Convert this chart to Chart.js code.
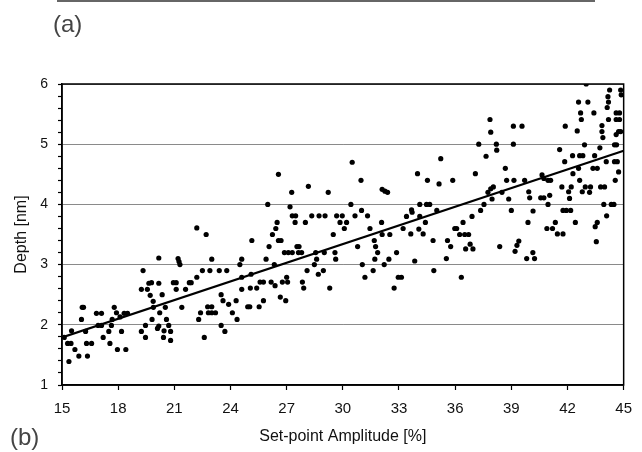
<!DOCTYPE html>
<html>
<head>
<meta charset="utf-8">
<script src="https://cdn.jsdelivr.net/npm/chart.js@4/dist/chart.umd.min.js"></script>
<style>
  html, body { margin: 0; padding: 0; background: #fff; }
  #wrap { position: relative; width: 642px; height: 452px; }
  .panel { position: absolute; font-family: "Liberation Sans", Arial, sans-serif; font-size: 24px; line-height: 24px; color: #444; }
  #rule { position: absolute; left: 57px; top: 0; width: 538px; height: 2px; background: #666; }
</style>
</head>
<body>
<div id="wrap">
  <div id="rule"></div>
  <div class="panel" style="left:53px; top:12px;">(a)</div>
  <div class="panel" style="left:10px; top:425px;">(b)</div>
  <canvas id="chart" width="642" height="452"></canvas>
</div>
<script>
// set-point amplitude [%] for each measured point
const amplitude = [
  15.12, 15.3, 15.48, 15.37, 15.51, 15.69, 15.9, 16.04, 16.08, 16.15,
  16.26, 16.31, 16.36, 16.58, 16.84, 17.11, 16.93, 17.11, 17.2, 17.5,
  17.56, 17.64, 17.68, 17.79, 17.91, 17.96, 18.1, 18.18, 18.32, 18.5,
  18.41, 19.24, 19.33, 19.24, 19.46, 19.46, 19.56, 19.64, 19.71, 19.78,
  19.87, 19.81, 19.88, 20.1, 20.17, 20.17, 20.17, 20.22, 20.35, 20.42,
  20.45, 20.58, 20.52,
  20.7, 20.8, 20.8, 20.95, 21.1, 21.1, 21.2, 21.25, 21.3, 21.4,
  21.6, 21.8, 21.9, 22.2, 22.7, 22.2, 22.3, 22.4, 22.5, 22.6,
  22.82, 22.78, 23.0, 23.0, 23.2, 23.0, 22.9, 23.4, 23.5, 23.5,
  23.6, 23.7, 23.8, 23.9, 24.1, 24.3, 24.35, 24.5, 24.6, 24.6, 24.6,
  24.92, 25.03, 25.06, 25.14, 25.1, 25.4, 25.53, 25.58, 25.76, 25.76,
  25.9, 25.99, 26.06, 26.17, 26.24, 26.34, 26.38, 26.42, 26.49, 26.56,
  26.56, 26.7, 26.66, 26.77, 26.88, 27.09, 27.3, 26.95, 27.0, 27.05,
  27.18, 27.27, 27.3, 27.48, 27.45, 27.55, 27.66, 27.63, 27.8, 27.84,
  27.91, 28.0, 28.09, 28.16, 28.34, 28.48, 28.55, 28.6, 28.69, 28.73,
  29.05, 28.96, 29.01, 29.22, 29.3, 29.49, 29.58, 29.62, 29.67, 29.97,
  29.85, 30.2, 30.08, 30.43, 30.5, 30.65, 30.79, 30.97, 31.0, 31.04,
  31.18, 31.32, 31.45, 31.62, 31.68, 31.71, 31.75, 31.86, 32.07, 32.1,
  32.1, 32.25, 32.39, 32.21, 32.46, 32.51, 32.74, 32.87, 32.96, 33.13,
  33.22,
  33.4, 33.67, 33.7, 33.63, 33.84, 33.99, 34.06, 34.11, 34.11, 34.29,
  34.41, 34.47, 34.64, 34.52, 34.82, 34.86, 35.02, 35.14, 35.23, 35.53,
  35.59, 35.76, 35.87, 35.98, 36.08, 36.24, 36.33, 36.42, 36.51, 36.72,
  36.56, 36.8, 36.9, 36.95, 37.08, 37.26, 37.36, 37.54, 37.65, 37.75,
  37.9, 38.04, 37.86, 37.9, 37.97, 38.2, 38.22, 38.38, 38.5, 38.68,
  38.75, 39.14, 38.86, 39.0, 39.11, 39.11,
  39.57, 39.71, 39.89, 39.93, 39.98, 40.16, 39.4, 39.3, 39.2, 39.82,
  40.15, 40.24, 40.57, 40.74, 41.05, 40.64, 40.74, 40.96, 41.1, 40.96,
  40.9, 41.2, 41.35, 41.46, 41.76, 41.58, 41.7, 41.76, 41.94, 42.17,
  41.85, 41.88, 42.06, 42.2, 42.11, 42.27, 42.65, 42.82, 42.29, 42.42,
  42.52, 42.59, 42.59, 43.09, 42.65, 42.7, 42.74, 42.79, 42.91, 42.95,
  43.23, 43.0, 43.18, 43.36, 43.59, 43.41, 43.45, 43.48, 43.59, 43.54,
  43.73, 43.77, 43.98, 43.84, 43.84, 43.89, 43.94, 44.34, 44.48, 44.07,
  44.09, 44.12, 44.19, 44.16, 44.25, 44.19, 44.51, 44.66, 44.55, 44.6,
  44.78, 44.6, 44.78, 44.6, 44.73, 44.51, 44.62, 44.73, 44.84, 44.84,
  44.87
];
// measured depth [nm], same order as amplitude
const depth = [
  1.79, 1.69, 1.69, 1.39, 1.9, 1.59, 1.48, 2.09, 2.29, 2.29,
  1.89, 1.69, 1.48, 1.69, 2.19, 2.19, 1.99, 1.99, 1.79, 1.89,
  1.69, 1.99, 2.09, 2.29, 2.2, 1.59, 2.13, 1.89, 2.19, 2.19,
  1.59, 2.59, 2.9, 1.89, 1.99, 1.79, 2.59, 2.69, 2.49, 2.7,
  2.39, 2.09, 2.29, 1.94, 1.98, 3.11, 2.69, 2.2, 2.5, 1.79,
  1.9, 2.09, 2.29,
  1.99, 1.89, 1.74, 2.7, 2.7, 2.59, 3.1, 3.05, 3.0, 2.29,
  2.59, 2.7, 2.7, 3.61, 3.5, 2.79, 2.09, 2.2, 2.9, 1.79,
  2.2, 2.3, 2.3, 2.2, 2.2, 3.09, 2.9, 2.9, 1.99, 2.5,
  2.4, 1.89, 2.9, 2.34, 2.2, 2.4, 2.09, 3.0, 2.79, 3.09, 2.59,
  2.3, 2.3, 2.61, 3.4, 2.84, 2.61, 2.3, 2.71, 2.4, 2.71,
  3.09, 4.0, 3.3, 2.71, 3.5, 3.0, 2.65, 3.6, 3.7, 4.5,
  3.4, 3.4, 2.46, 2.71, 3.2, 3.2, 3.2, 2.4, 2.79, 2.71,
  3.96, 4.2, 3.81, 3.81, 3.7, 3.3, 3.3, 3.2, 3.2, 2.71,
  2.61, 3.7, 2.9, 4.3, 3.81, 3.0, 3.2, 3.09, 2.84, 3.81,
  3.81, 2.9, 3.2, 4.2, 2.61, 3.5, 3.2, 3.09, 3.81, 3.81,
  3.7, 3.7, 3.6, 4.0, 4.7, 3.81, 3.3, 4.4, 3.9, 3.0,
  2.79, 3.81, 3.6, 2.9, 3.4, 3.09, 3.3, 3.2, 3.7, 3.5,
  4.25, 4.22, 4.2, 3.0, 3.09, 3.5, 2.61, 3.2, 2.79, 2.79,
  3.6,
  3.8, 3.91, 3.87, 3.51, 3.06, 4.51, 3.59, 4.0, 3.8, 3.51,
  3.7, 4.0, 4.0, 4.4, 3.4, 2.9, 3.9, 4.34, 4.76, 3.1,
  3.4, 3.3, 4.4, 3.6, 3.6, 3.5, 2.79, 3.7, 3.5, 3.5,
  3.26, 3.34, 3.8, 3.26, 4.51, 5.0, 3.9, 4.0, 4.8, 4.2,
  4.26, 4.29, 5.41, 5.2, 4.09, 5.0, 4.9, 3.3, 4.2, 4.6,
  4.4, 4.4, 4.09, 3.9, 5.3, 5.0,
  5.3, 4.4, 3.7, 4.21, 4.11, 3.89, 3.39, 3.32, 3.22, 3.1,
  3.2, 3.1, 4.11, 4.11, 4.15, 4.49, 4.43, 4.4, 4.4, 4.0,
  3.6, 3.6, 3.7, 3.51, 3.51, 4.91, 4.29, 3.9, 3.9, 3.9,
  4.71, 5.3, 4.21, 4.29, 4.1, 4.81, 4.81, 4.81, 4.51, 3.7,
  5.22, 4.6, 5.7, 5.7, 4.4, 5.52, 5.41, 4.21, 4.99, 4.29,
  4.29, 6.0, 4.2, 4.6, 4.6, 5.52, 4.81, 3.63, 3.7, 3.38,
  4.94, 4.29, 4.29, 5.31, 5.21, 5.11, 4.0, 4.0, 4.0, 4.71,
  3.81, 5.61, 5.7, 5.79, 5.9, 5.41, 4.71, 4.71, 4.4, 5.52,
  5.52, 5.41, 5.41, 5.16, 5.21, 4.99, 4.99, 4.54, 5.21, 5.9,
  5.82
];
// linear fit endpoints
const fitX = [15, 45];
const fitY = [1.79, 4.89];

const xTicks = [15, 18, 21, 24, 27, 30, 33, 36, 39, 42, 45];

const points = amplitude.map((a, i) => ({ x: a, y: depth[i] }));
const fitLine = fitX.map((a, i) => ({ x: a, y: fitY[i] }));

const isWhole = v => Math.abs(v - Math.round(v)) < 1e-6;

// black frame round the plot area
const frame = {
  id: 'frame',
  afterDraw(chart) {
    const { ctx, chartArea: a } = chart;
    ctx.save();
    ctx.strokeStyle = '#000';
    ctx.lineWidth = 1.5;
    ctx.strokeRect(a.left, a.top, a.right - a.left, a.bottom - a.top);
    ctx.restore();
  }
};

Chart.defaults.font.family = '"Liberation Sans", Arial, sans-serif';
Chart.defaults.color = '#111';

new Chart(document.getElementById('chart'), {
  type: 'scatter',
  data: {
    datasets: [
      {
        label: 'data',
        data: points,
        pointRadius: 2.6,
        pointBackgroundColor: '#000',
        pointBorderWidth: 0,
        order: 2
      },
      {
        type: 'line',
        label: 'fit',
        data: fitLine,
        borderColor: '#000',
        borderWidth: 2.2,
        pointRadius: 0,
        fill: false,
        order: 1
      }
    ]
  },
  options: {
    responsive: false,
    animation: false,
    layout: { padding: { top: 84, right: 18, left: 0, bottom: 0 } },
    plugins: {
      legend: { display: false },
      tooltip: { enabled: false }
    },
    scales: {
      x: {
        type: 'linear',
        min: 15,
        max: 45,
        afterBuildTicks: s => { s.ticks = xTicks.map(v => ({ value: v })); },
        afterFit: s => { s.height = 67; },
        ticks: { font: { size: 15 }, padding: 10, maxRotation: 0, autoSkip: false },
        grid: { drawOnChartArea: false, tickLength: 5, tickColor: '#000', tickWidth: 1.2 },
        border: { color: '#000', width: 1.5 },
        title: {
          display: true,
          text: 'Set-point Amplitude [%]',
          font: { size: 16 },
          color: '#111',
          padding: { top: 0, bottom: 6 }
        }
      },
      y: {
        min: 1,
        max: 6,
        afterFit: s => { s.width = 62; },
        ticks: {
          stepSize: 0.2,
          autoSkip: false,
          font: { size: 14 },
          padding: 10,
          callback: v => isWhole(v) ? String(Math.round(v)) : ''
        },
        grid: {
          color: c => (c.tick && isWhole(c.tick.value)) ? '#8a8a8a' : 'rgba(0,0,0,0)',
          borderDash: [1, 2],
          lineWidth: 1,
          tickLength: 4,
          tickColor: '#000',
          tickWidth: 1.2,
          tickBorderDash: []
        },
        border: { color: '#000', width: 1.5 },
        title: {
          display: true,
          text: 'Depth [nm]',
          font: { size: 16 },
          color: '#111',
          padding: { top: 12, bottom: 0 }
        }
      }
    }
  },
  plugins: [frame]
});
</script>
</body>
</html>
